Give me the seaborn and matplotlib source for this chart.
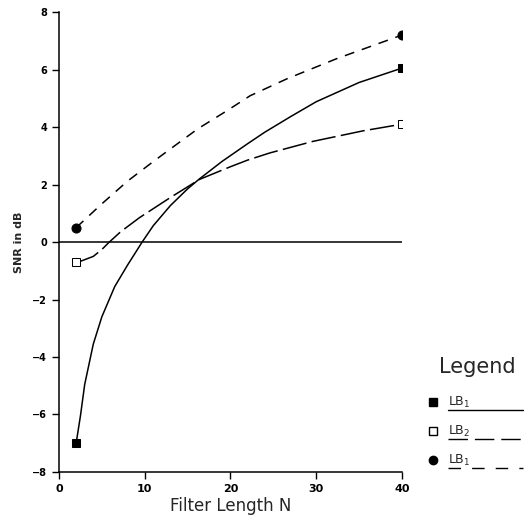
import numpy as np
import pandas as pd
import matplotlib
matplotlib.use("Agg")
import matplotlib.pyplot as plt
import seaborn as sns
from matplotlib.lines import Line2D

# Data
lb1_solid_x = [2, 2.5, 3, 4, 5, 6.5, 8, 9.7, 11, 13, 15, 16.4, 19, 22, 24, 27, 30, 35, 40]
lb1_solid_y = [-7.0, -6.05, -4.95, -3.55, -2.6, -1.55, -0.8, 0.0, 0.57, 1.27, 1.85,
               2.2, 2.8, 3.42, 3.82, 4.36, 4.88, 5.55, 6.05]

lb2_x = [2, 2.5, 4, 5, 5.8, 7.2, 9.4, 13, 16.4, 20, 22, 24.6, 29.6, 35.5, 40]
lb2_y = [-0.7, -0.67, -0.5, -0.26, -0.02, 0.36, 0.85, 1.55, 2.18, 2.62, 2.85, 3.1, 3.5, 3.87, 4.1]

lb1_dash_x = [2, 5, 8, 11, 14, 16.2, 19.6, 22.3, 26.6, 32.4, 36.3, 40]
lb1_dash_y = [0.5, 1.33, 2.12, 2.8, 3.46, 3.94, 4.57, 5.09, 5.68, 6.38, 6.8, 7.2]

legend_labels = ["LB$_1$", "LB$_2$", "LB$_1$"]

sns.set_theme(style="ticks")
plt.rcParams['font.family'] = ['DejaVu Sans']

fig = plt.figure(figsize=(5.24, 5.25), dpi=100)
ax = fig.add_axes([0.1126, 0.101, 0.767 - 0.1126, 0.977 - 0.101])

df1 = pd.DataFrame({"x": lb1_solid_x, "y": lb1_solid_y})
df2 = pd.DataFrame({"x": lb2_x, "y": lb2_y})
df3 = pd.DataFrame({"x": lb1_dash_x, "y": lb1_dash_y})

sns.lineplot(data=df1, x="x", y="y", ax=ax, color="black", lw=1.1,
             marker="s", markevery=[0, -1], markersize=6, markerfacecolor="black",
             markeredgecolor="black", sort=False)
sns.lineplot(data=df2, x="x", y="y", ax=ax, color="black", lw=1.1,
             marker="s", markevery=[0, -1], markersize=6,
             markerfacecolor="white", markeredgecolor="black", sort=False)
l2 = ax.lines[-1]
l2.set_linestyle((0, (16, 3.5)))
sns.lineplot(data=df3, x="x", y="y", ax=ax, color="black", lw=1.1,
             marker="o", markevery=[0, -1], markersize=6.5, markerfacecolor="black",
             markeredgecolor="black", sort=False)
l3 = ax.lines[-1]
l3.set_linestyle((0, (6.5, 5.2)))

ax.axhline(0, xmin=0, xmax=1, color="black", lw=1.1, zorder=1)

ax.set_xlim(0, 40)
ax.set_ylim(-8, 8)
ax.set_xticks([0, 10, 20, 30, 40])
ax.set_yticks([-8, -6, -4, -2, 0, 2, 4, 6, 8])
ax.set_yticklabels(["\u22128", "\u22126", "\u22124", "\u22122", "0", "2", "4", "6", "8"])
for sp in ["top", "right"]:
    ax.spines[sp].set_visible(False)
for sp in ["left", "bottom"]:
    ax.spines[sp].set_linewidth(1.1)
    ax.spines[sp].set_color("black")
ax.tick_params(axis="both", direction="out", length=5, width=1.0, colors="black")
ax.tick_params(axis="y", labelsize=7)
ax.tick_params(axis="x", labelsize=8)
for t in ax.get_yticklabels() + ax.get_xticklabels():
    t.set_fontweight("bold")
ax.set_xlabel("Filter Length N", fontsize=12, labelpad=2)
ax.set_ylabel("SNR in dB", fontsize=8, fontweight="bold", labelpad=6)

# Custom legend drawn at the right side
W, H = 524.0, 525.0
fig.text(477 / W, 1 - 367 / H, "Legend", fontsize=15, ha="center", va="center")
rows = [402, 431, 460]
styles = [dict(marker="s", mfc="black", dashes=None),
          dict(marker="s", mfc="white", dashes=(14, 5)),
          dict(marker="o", mfc="black", dashes=(9, 8))]
for yy, lab, st in zip(rows, legend_labels, styles):
    fig.add_artist(Line2D([433 / W], [1 - yy / H], marker=st["marker"], markersize=6,
                          markerfacecolor=st["mfc"], markeredgecolor="black",
                          linestyle="none", transform=fig.transFigure))
    fig.text(448 / W, 1 - yy / H, lab, fontsize=9, ha="left", va="center")
    ln = Line2D([448 / W, 523 / W], [1 - (yy + 8) / H, 1 - (yy + 8) / H],
                color="black", lw=1.0, transform=fig.transFigure)
    if st["dashes"] is not None:
        ln.set_linestyle((0, st["dashes"]))
    fig.add_artist(ln)

fig.savefig("out.png", dpi=100)
